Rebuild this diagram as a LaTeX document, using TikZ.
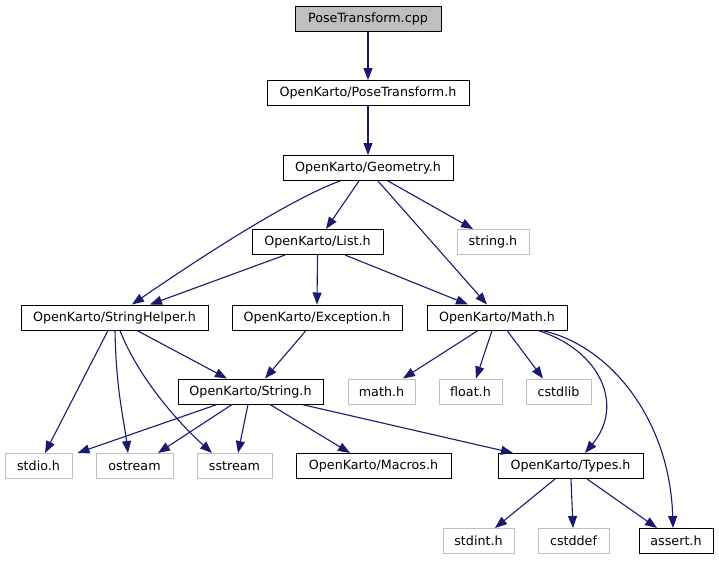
\documentclass[tikz,border=0pt]{standalone}
\usepackage{fontspec}
\setmainfont{DejaVu Sans}
\usetikzlibrary{arrows.meta}
\definecolor{edgeblue}{HTML}{191970}
\definecolor{sysgray}{HTML}{BFBFBF}
\tikzset{
  box/.style={draw=black, line width=1pt, minimum height=25pt, inner sep=0pt,
    font=\fontsize{12.7}{15}\selectfont, fill=white},
  sysbox/.style={box, draw=sysgray},
  mainbox/.style={box, fill=sysgray},
  dep/.style={draw=edgeblue, line width=1.1pt, -{Triangle[length=12pt,width=9pt]}, color=edgeblue}
}
\begin{document}
\begin{tikzpicture}[x=1pt,y=-1pt]
\useasboundingbox (0,0) rectangle (719,560);
% rows
\node[mainbox, minimum width=146pt] (cpp) at (368,18.5) {PoseTransform.cpp};
\node[box, minimum width=202pt] (pth) at (368,93) {OpenKarto/PoseTransform.h};
\node[box, minimum width=170pt] (geo) at (368,168) {OpenKarto/Geometry.h};
\node[box, minimum width=131pt] (list) at (317.5,242) {OpenKarto/List.h};
\node[sysbox, minimum width=72pt] (strh) at (493,242) {string.h};
\node[box, minimum width=187pt] (shelp) at (114.5,317.5) {OpenKarto/StringHelper.h};
\node[box, minimum width=170pt] (exc) at (317,317.5) {OpenKarto/Exception.h};
\node[box, minimum width=140pt] (math) at (497,317.5) {OpenKarto/Math.h};
\node[box, minimum width=145pt] (str) at (250.5,391.5) {OpenKarto/String.h};
\node[sysbox, minimum width=67pt] (mathh) at (381.5,391.5) {math.h};
\node[sysbox, minimum width=63pt] (floath) at (470.5,391.5) {float.h};
\node[sysbox, minimum width=65pt] (cstdlib) at (558.5,391.5) {cstdlib};
\node[sysbox, minimum width=67pt] (stdio) at (38.5,466) {stdio.h};
\node[sysbox, minimum width=77pt] (ostream) at (134.5,466) {ostream};
\node[sysbox, minimum width=75pt] (sstream) at (234.5,466) {sstream};
\node[box, minimum width=155pt] (macros) at (373.5,466) {OpenKarto/Macros.h};
\node[box, minimum width=145pt] (types) at (570.5,466) {OpenKarto/Types.h};
\node[sysbox, minimum width=71pt] (stdint) at (478.5,541) {stdint.h};
\node[sysbox, minimum width=71pt] (cstddef) at (573.5,541) {cstddef};
\node[box, minimum width=74pt] (assert) at (676,541) {assert.h};
% edges
\draw[dep] (cpp.south) -- (pth.north);
\draw[dep] (pth.south) -- (geo.north);
\draw[dep] ([xshift=-9pt]geo.south) -- ([xshift=8.5pt]list.north);
\draw[dep] ([xshift=20pt]geo.south) -- ([xshift=-20pt]strh.north);
\draw[dep] ([xshift=10pt]geo.south) -- ([xshift=-10pt]math.north);
\draw[dep] ([xshift=-28pt]geo.south) .. controls (285,201) and (182,270) .. ([xshift=17.5pt]shelp.north);
\draw[dep] ([xshift=-32.5pt]list.south) -- ([xshift=35.5pt]shelp.north);
\draw[dep] (list.south) -- (exc.north);
\draw[dep] ([xshift=27.5pt]list.south) -- ([xshift=-29pt]math.north);
\draw[dep] ([xshift=22.5pt]shelp.south) -- ([xshift=-23.5pt]str.north);
\draw[dep] ([xshift=-11pt]exc.south) -- ([xshift=14.5pt]str.north);
\draw[dep] ([xshift=-6.5pt]shelp.south) -- ([xshift=6.5pt]stdio.north);
\draw[dep] ([xshift=0.5pt]shelp.south) .. controls (116,390) and (124,420) .. ([xshift=-6.5pt]ostream.north);
\draw[dep] ([xshift=5.5pt]shelp.south) .. controls (135,370) and (170,415) .. ([xshift=-22.5pt]sstream.north);
\draw[dep] ([xshift=-33.5pt]str.south) -- ([xshift=5pt]stdio.north east);
\draw[dep] ([xshift=-18.5pt]str.south) -- ([xshift=23.5pt]ostream.north);
\draw[dep] ([xshift=-2.5pt]str.south) -- ([xshift=3.5pt]sstream.north);
\draw[dep] ([xshift=19.5pt]str.south) -- ([xshift=-23.5pt]macros.north);
\draw[dep] ([xshift=51.5pt]str.south) -- ([xshift=-57.5pt]types.north);
\draw[dep] ([xshift=-19pt]math.south) -- ([xshift=21.5pt]mathh.north);
\draw[dep] ([xshift=-5pt]math.south) -- ([xshift=5.5pt]floath.north);
\draw[dep] ([xshift=10pt]math.south) -- ([xshift=-15.5pt]cstdlib.north);
\draw[dep] ([xshift=41pt]math.south) .. controls (600,350) and (625,405) .. ([xshift=14.5pt]types.north);
\draw[dep] ([xshift=45pt]math.south) .. controls (610,345) and (670,420) .. ([xshift=-3pt]assert.north);
\draw[dep] ([xshift=-15.5pt]types.south) -- ([xshift=16.5pt]stdint.north);
\draw[dep] ([xshift=0.5pt]types.south) -- ([xshift=-0.5pt]cstddef.north);
\draw[dep] ([xshift=16.5pt]types.south) -- ([xshift=-19pt]assert.north);
\end{tikzpicture}
\end{document}
